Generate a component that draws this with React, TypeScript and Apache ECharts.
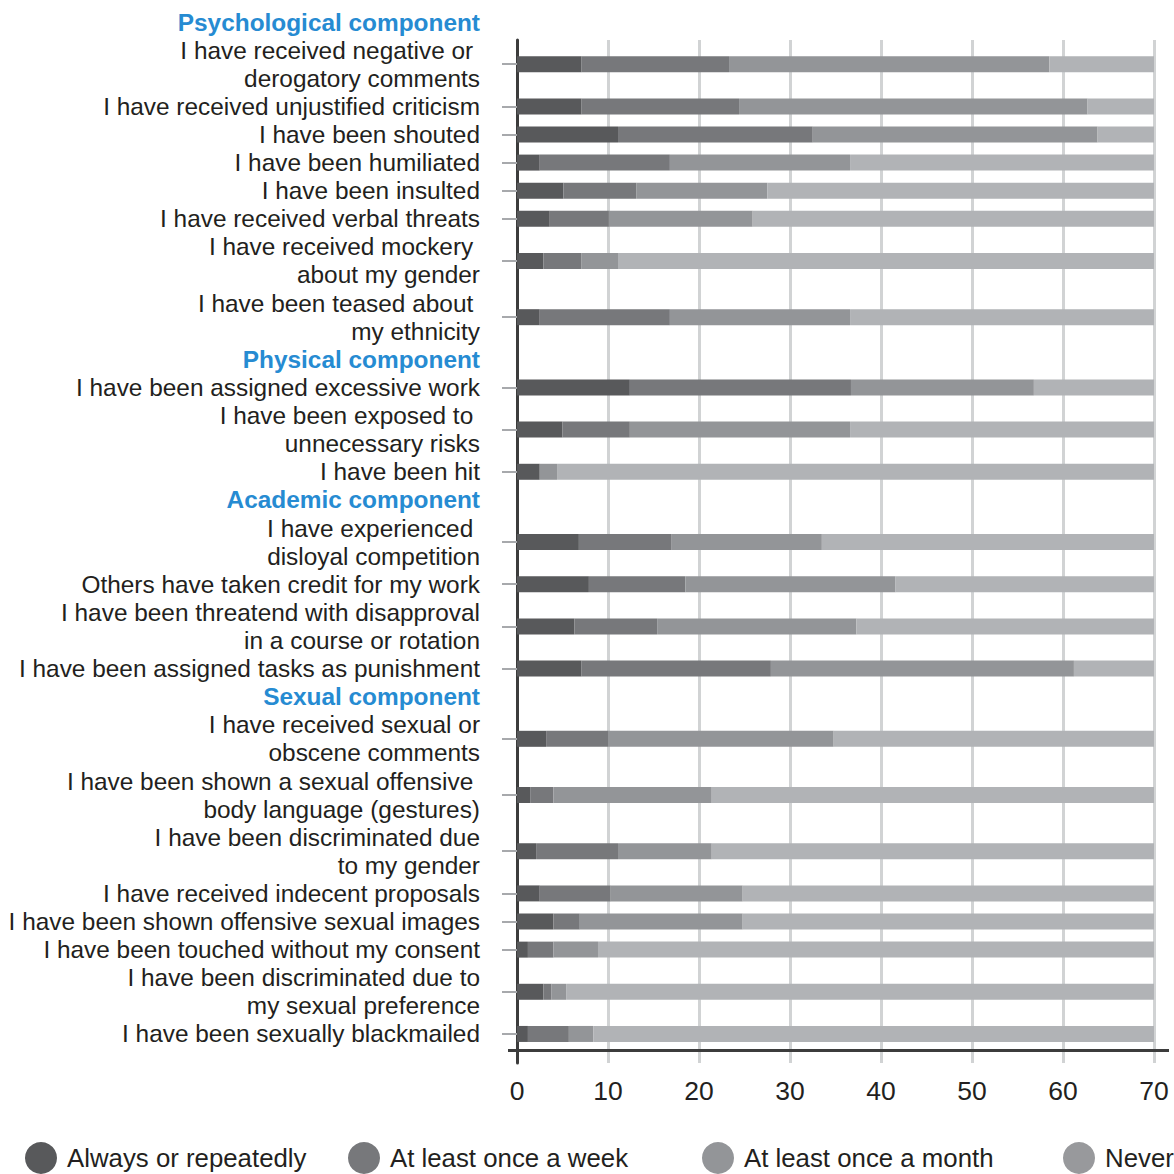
import React, { useEffect, useRef } from "react";
import * as echarts from "echarts";

const sectionTitles = ["Psychological component", "Physical component", "Academic component", "Sexual component"];
const sectionItemCounts = [8, 3, 4, 8];

const categories = [
  "I have received negative or \nderogatory comments",
  "I have received unjustified criticism",
  "I have been shouted",
  "I have been humiliated",
  "I have been insulted",
  "I have received verbal threats",
  "I have received mockery \nabout my gender",
  "I have been teased about \nmy ethnicity",
  "I have been assigned excessive work",
  "I have been exposed to \nunnecessary risks",
  "I have been hit",
  "I have experienced \ndisloyal competition",
  "Others have taken credit for my work",
  "I have been threatend with disapproval\nin a course or rotation",
  "I have been assigned tasks as punishment",
  "I have received sexual or\nobscene comments",
  "I have been shown a sexual offensive \nbody language (gestures)",
  "I have been discriminated due\nto my gender",
  "I have received indecent proposals",
  "I have been shown offensive sexual images",
  "I have been touched without my consent",
  "I have been discriminated due to\nmy sexual preference",
  "I have been sexually blackmailed",
];

const seriesNames = ["Always or repeatedly", "At least once a week", "At least once a month", "Never"];
const always = [7.1, 7.1, 11.1, 2.5, 5.1, 3.6, 2.9, 2.5, 12.4, 5.0, 2.5, 6.8, 7.9, 6.3, 7.1, 3.2, 1.5, 2.1, 2.5, 4.0, 1.2, 2.9, 1.2];
const week = [16.2, 17.3, 21.4, 14.3, 8.0, 6.5, 4.2, 14.3, 24.3, 7.4, 0, 10.2, 10.6, 9.1, 20.8, 6.8, 2.5, 9.0, 7.8, 2.9, 2.8, 0.9, 4.5];
const month = [35.2, 38.3, 31.3, 19.8, 14.4, 15.8, 4.0, 19.8, 20.1, 24.2, 1.9, 16.5, 23.1, 21.9, 33.3, 24.8, 17.4, 10.3, 14.5, 17.9, 4.9, 1.6, 2.7];
const never = [41.5, 37.3, 36.2, 63.4, 72.5, 74.1, 88.9, 63.4, 43.2, 63.4, 95.6, 66.5, 58.4, 62.7, 38.8, 65.2, 78.6, 78.6, 75.2, 75.2, 91.1, 94.6, 91.6];
const xTicks = [0, 10, 20, 30, 40, 50, 60, 70];

const barColors = ["#58595b", "#77787b", "#939598", "#b1b3b6"];
const legendIconColors = ["#58595b", "#77787b", "#939598", "#98999c"];
const legendLefts = [25, 348, 702, 1063];
const FONT = "'Liberation Sans', Arial, Helvetica, sans-serif";
const TEXT = "#231f20";

// Build half-line slots for the category axis
const totalLines =
  sectionTitles.length + categories.reduce((a, c) => a + c.split("\n").length, 0);
const NPTS = totalLines * 2 + 1;
const slotKeys: string[] = [];
const slotLabels: string[] = [];
const slotKind: string[] = [];
const slotItem: number[] = [];
for (let k = 0; k < NPTS; k++) {
  slotKeys.push("s" + k);
  slotLabels.push("");
  slotKind.push("blank");
  slotItem.push(-1);
}
{
  let line = 0;
  let item = 0;
  sectionTitles.forEach((t, s) => {
    const hk = 2 * line + 1;
    slotKind[hk] = "header";
    slotLabels[hk] = "{h|" + t + "}";
    line += 1;
    for (let j = 0; j < sectionItemCounts[s]; j++) {
      const n = categories[item].split("\n").length;
      const k = 2 * line + n;
      slotKind[k] = "item";
      slotLabels[k] = categories[item];
      slotItem[k] = item;
      line += n;
      item++;
    }
  });
}
const valueSets = [always, week, month, never];
const slotData = valueSets.map((vals) =>
  slotItem.map((it) => (it >= 0 ? vals[it] : "-"))
);

export default function App() {
  const ref = useRef<HTMLDivElement>(null);
  useEffect(() => {
    if (!ref.current) return;
    const chart = echarts.init(ref.current, undefined, { renderer: "svg" });
    const option: any = {
      animation: false,
      backgroundColor: "#ffffff",
      textStyle: { fontFamily: FONT },
      grid: [
        { left: 517, right: 20, top: 40, bottom: 111, outerBoundsMode: "none" },
        { left: 517, right: 20, top: 8, height: 1040, outerBoundsMode: "none" },
      ],
      xAxis: [
        {
          gridIndex: 0,
          type: "value",
          min: xTicks[0],
          max: xTicks[xTicks.length - 1],
          interval: 10,
          axisLine: { show: false },
          axisTick: { show: false },
          splitLine: { show: true, lineStyle: { color: "#d1d3d4", width: 3 } },
          axisLabel: { fontSize: 26.5, color: TEXT, margin: 14, fontFamily: FONT },
        },
        { gridIndex: 1, type: "value", min: 0, max: 70, show: false },
      ],
      yAxis: [
        {
          gridIndex: 0,
          type: "value",
          min: 0,
          max: 1,
          axisLine: { show: true, lineStyle: { color: "#3c3c3c", width: 3 } },
          axisTick: { show: false },
          axisLabel: { show: false },
          splitLine: { show: false },
        },
        {
          gridIndex: 1,
          type: "category",
          data: slotKeys,
          inverse: true,
          boundaryGap: false,
          axisLine: { show: false },
          axisTick: {
            show: true,
            length: 15,
            interval: (i: number) => slotKind[i] === "item",
            lineStyle: { color: "#a7a9ac", width: 2 },
          },
          axisLabel: {
            interval: 0,
            margin: 37,
            fontSize: 24.4,
            lineHeight: 28,
            color: TEXT,
            fontFamily: FONT,
            align: "right",
            formatter: (_v: string, i: number) => slotLabels[i],
            rich: {
              h: { fontSize: 24.4, fontWeight: "bold", color: "#268bd2", fontFamily: FONT },
            },
          },
          splitLine: { show: false },
        },
      ],
      legend: seriesNames.map((n, i) => ({
        data: [{ name: n, itemStyle: { color: legendIconColors[i] } }],
        left: legendLefts[i],
        top: 1142,
        padding: 0,
        icon: "circle",
        itemWidth: 32,
        itemHeight: 32,
        selectedMode: false,
        textStyle: { fontSize: 25.8, color: TEXT, fontFamily: FONT, padding: [0, 0, 0, 5] },
      })),
      series: seriesNames.map((n, i) => ({
        name: n,
        type: "bar",
        stack: "total",
        xAxisIndex: 1,
        yAxisIndex: 1,
        barWidth: 16,
        itemStyle: { color: barColors[i] },
        data: slotData[i],
      })),
      graphic: [
        {
          type: "line",
          z: 100,
          shape: { x1: 508, y1: 1050.5, x2: 1169, y2: 1050.5 },
          style: { stroke: "#3c3c3c", lineWidth: 3 },
        },
      ],
    };
    chart.setOption(option);
    return () => chart.dispose();
  }, []);
  return (
    <div
      ref={ref}
      style={{ position: "fixed", left: 0, top: 0, width: 1174, height: 1174 }}
    />
  );
}
